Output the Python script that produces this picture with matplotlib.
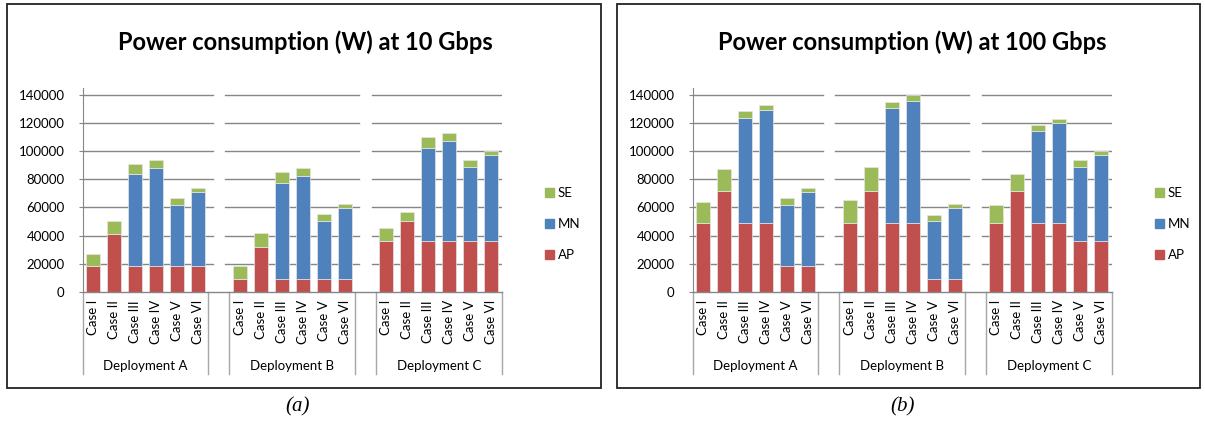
import numpy as np
import matplotlib
matplotlib.use("Agg")
import matplotlib.pyplot as plt
from matplotlib.patches import Rectangle, Patch
from matplotlib.lines import Line2D

plt.rcParams['font.family'] = ['Lato', 'DejaVu Sans']

cases = ["Case I", "Case II", "Case III", "Case IV", "Case V", "Case VI"]
deployments = ["Deployment A", "Deployment B", "Deployment C"]

# cumulative tops, per deployment A | B | C
# 10 Gbps
ap_10 = [18000, 41000, 18000, 18000, 18000, 18000,
         9000, 32000, 9000, 9000, 9000, 9000,
         36000, 50000, 36000, 36000, 36000, 36000]
mn_top_10 = [18000, 41000, 83500, 88000, 62000, 71000,
             9000, 32000, 77500, 82400, 50500, 59500,
             36000, 50000, 102500, 107500, 89000, 97500]
se_top_10 = [27000, 50000, 91000, 94000, 66500, 74000,
             18500, 42000, 85000, 88000, 55000, 62500,
             45500, 57000, 110000, 113000, 93500, 100500]

# 100 Gbps
ap_100 = [49000, 72000, 49000, 49000, 18000, 18000,
          49000, 72000, 49000, 49000, 9000, 9000,
          49000, 72000, 49000, 49000, 36000, 36000]
mn_top_100 = [49000, 72000, 124000, 129500, 62000, 71000,
              49000, 72000, 130500, 136000, 50500, 59500,
              49000, 72000, 114500, 120000, 89000, 97500]
se_top_100 = [64000, 87000, 128500, 133000, 66500, 74000,
              65500, 88500, 135000, 140000, 54500, 62500,
              61500, 84000, 119000, 123000, 93500, 100500]

yticks = [0, 20000, 40000, 60000, 80000, 100000, 120000, 140000]

c_ap = "#C0504D"
c_mn = "#4F81BD"
c_se = "#9BBB59"
grid_c = "#868686"

W, H = 1205, 423
fig = plt.figure(figsize=(W / 100, H / 100), dpi=100)


def panel(x0px, title, title_x, ap, mn_top, se_top, legend_x):
    ax_h = 203.7
    ax = fig.add_axes([x0px / W, (H - 291.7) / H, 419 / W, ax_h / H])
    # slot positions: 6 cases, an empty slot, 6 cases, empty slot, 6 cases
    pos = []
    for g in range(3):
        pos += [g * 7 + i for i in range(6)]
    pos = np.array(pos)
    ap = np.array(ap)
    mn = np.array(mn_top) - ap
    se = np.array(se_top) - np.array(mn_top)
    kw = dict(width=0.67, edgecolor="#e6e6e6", linewidth=0.5, zorder=3)
    ax.bar(pos, ap, color=c_ap, **kw)
    ax.bar(pos, mn, bottom=ap, color=c_mn, **kw)
    ax.bar(pos, se, bottom=ap + mn, color=c_se, **kw)

    ax.set_xlim(-0.5, 19.5)
    ax.set_ylim(0, 145000)
    ax.set_yticks(yticks)
    ax.set_yticklabels([str(t) for t in yticks], fontsize=9.5)
    ax.tick_params(axis="y", length=3, color=grid_c, pad=10)
    ax.set_xticks([])
    for s in ["top", "right", "bottom"]:
        ax.spines[s].set_visible(False)
    ax.spines["left"].set_color(grid_c)

    # gridlines broken at the gap slots
    segs = [(-0.5, 5.7), (6.3, 12.7), (13.3, 19.5)]
    for t in yticks[1:]:
        for a, b in segs:
            ax.plot([a, b], [t, t], color=grid_c, lw=1, zorder=1)
    ax.plot([-0.5, 19.5], [0, 0], color=grid_c, lw=1, zorder=4, clip_on=False)

    # multi-level category axis
    trans = ax.get_xaxis_transform()
    for xs in [-0.5, 5.5, 6.5, 12.5, 13.5, 19.5]:
        ax.add_line(Line2D([xs, xs], [0, -82.3 / ax_h], transform=trans,
                           color="#a6a6a6", lw=1, clip_on=False))
    for p, lab in zip(pos, cases * 3):
        ax.text(p, -8.3 / ax_h, lab, transform=trans, rotation=90,
                ha="center", va="top", fontsize=9.5)
    for g, d in enumerate(deployments):
        ax.text(g * 7 + 2.5, -74.3 / ax_h, d, transform=trans,
                ha="center", va="center", fontsize=9.5)

    fig.text(title_x / W, (H - 42) / H, title, ha="center", va="center",
             fontsize=17, fontweight="bold")

    handles = [Patch(color=c_se, label="SE"), Patch(color=c_mn, label="MN"),
               Patch(color=c_ap, label="AP")]
    fig.legend(handles=handles, loc="center left",
               bbox_to_anchor=(legend_x / W, (H - 224) / H), frameon=False,
               fontsize=9.5, handlelength=0.7, handleheight=0.7,
               handletextpad=0.3, labelspacing=1.45, borderpad=0)
    return ax


panel(82.7, "Power consumption (W) at 10 Gbps", 305,
      ap_10, mn_top_10, se_top_10, 538)
panel(692.7, "Power consumption (W) at 100 Gbps", 912,
      ap_100, mn_top_100, se_top_100, 1148)

# panel frames
for x0, x1 in [(7, 600.7), (616.7, 1199.5)]:
    fig.add_artist(Rectangle((x0 / W, (H - 388) / H), (x1 - x0) / W, 384 / H,
                             transform=fig.transFigure, fill=False,
                             edgecolor="#222222", lw=1.3))

fig.text(298 / W, (H - 407) / H, "(a)", ha="center", va="center",
         fontsize=15, style="italic", family="Liberation Serif")
fig.text(903 / W, (H - 407) / H, "(b)", ha="center", va="center",
         fontsize=15, style="italic", family="Liberation Serif")

fig.savefig("out.png", dpi=100)
